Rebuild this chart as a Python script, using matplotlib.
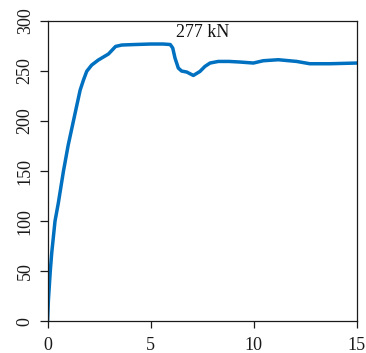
import matplotlib
matplotlib.use("Agg")
import matplotlib.pyplot as plt

plt.rcParams['font.family'] = ['Liberation Serif', 'DejaVu Serif']

# Load-displacement response
displacement = [0.0, 0.04, 0.13, 0.2, 0.36, 0.52, 0.77, 1.0, 1.2, 1.41, 1.58,
                1.74, 1.9, 2.14, 2.46, 2.95, 3.3, 3.6, 4.24, 5.0, 5.6, 5.95,
                6.07, 6.18, 6.34, 6.5, 6.75, 7.07, 7.39, 7.63, 7.88, 8.28,
                8.8, 9.33, 9.98, 10.46, 11.19, 12.08, 12.72, 13.69, 15.0]
load = [0.0, 21, 50, 68, 100, 118, 150, 176, 195, 215, 231,
        241, 249.8, 256, 261, 267, 274.6, 276, 276.5, 277, 277, 276.5,
        273, 263, 253, 250, 249, 245.6, 249.6, 254.6, 258, 259.6,
        259.6, 259, 258, 260.3, 261.3, 259.6, 257.3, 257.3, 258]
peak_label = "277 kN"
peak_load = 277
x_ticks = [0, 5, 10, 15]
y_ticks = [0, 50, 100, 150, 200, 250, 300]

fig = plt.figure(figsize=(3.66, 3.53), dpi=100)
ax = fig.add_axes([0.13, 0.09, 0.845, 0.8505])

ax.plot(displacement, load, color='#0070C0', lw=2.5, solid_joinstyle='round',
        solid_capstyle='round')
ax.text(6.23, peak_load + 3, peak_label, fontsize=13, ha='left', va='bottom',
        color='#111111', family='Liberation Serif')

ax.set_xlim(0, 15)
ax.set_ylim(0, 300)
ax.set_xticks(x_ticks)
ax.set_yticks(y_ticks)
ax.tick_params(axis='both', direction='out', labelsize=13, width=0.9,
               colors='#1a1a1a')
ax.tick_params(axis='y', length=6, pad=4)
ax.tick_params(axis='x', length=5, pad=6)
for lbl in ax.get_yticklabels() + ax.get_xticklabels():
    lbl.set_family('Liberation Serif')
for lbl in ax.get_yticklabels():
    lbl.set_rotation(90)
    lbl.set_va('center')
for s in ax.spines.values():
    s.set_linewidth(0.9)
    s.set_color('#1a1a1a')

fig.savefig('out.png', dpi=100)
